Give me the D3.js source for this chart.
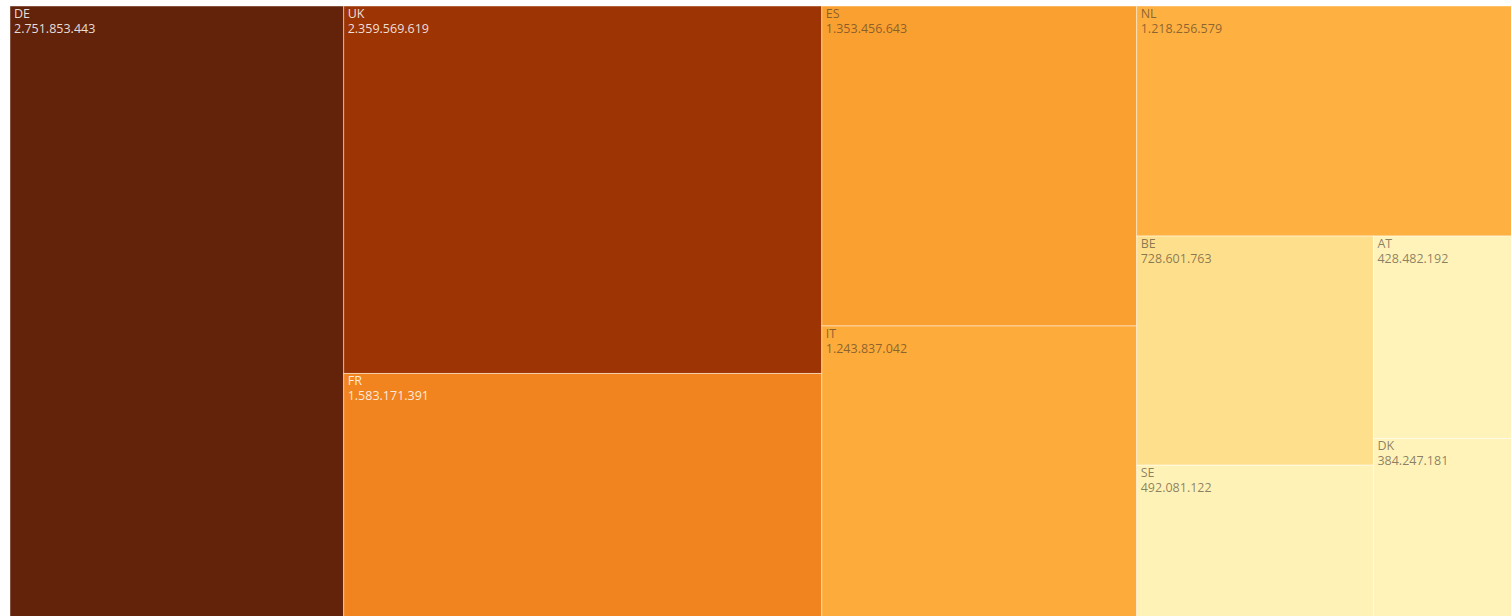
<!DOCTYPE html>
<html>
  <head>
    <meta charset="UTF-8"/>
    <script src="https://d3js.org/d3.v7.min.js"></script>
    <style>
      body{
        margin: 0;
        background-color: #ffffff;
        overflow: hidden;
      }
      .cell rect{
        stroke: rgba(255,255,255,0.45);
        stroke-width: 1;
      }
      .cell text{
        font-family: 'Open Sans', sans-serif;
        font-size: 12.5px;
      }
    </style>
  </head>
  <body>
    <script>
      // values
      const countries = ['DE','UK','FR','ES','IT','NL','BE','SE','AT','DK'];
      const amounts = [2751853443, 2359569619, 1583171391, 1353456643, 1243837042,
                       1218256579, 728601763, 492081122, 428482192, 384247181];
      const cellColors = ['#62230a','#9d3403','#f1841e','#faa030','#fdab3b',
                          '#feb040','#fee08c','#fff2b6','#fff3b9','#fff3b9'];
      const lightText = ['DE','UK','FR'];

      const width = 1511;
      const height = 616;
      const padLeft = 10, padTop = 6;

      const fmt = (v) => d3.format(',')(v).replace(/,/g,'.');

      const color = d3.scaleOrdinal()
                      .domain(countries)
                      .range(cellColors);

      const root = d3.hierarchy({children: countries.map((c,i) => ({name: c, value: amounts[i]}))})
                     .sum(d => d.value || 0)
                     .sort((a,b) => b.value - a.value);

      // squarified layout, the plot runs a little past the window edges
      d3.treemap()
        .tile(d3.treemapSquarify.ratio(1))
        .size([1521, 614])
        .round(false)(root);

      const svg = d3.select('body')
                    .append('svg')
                    .attr('width', width)
                    .attr('height', height);

      const g = svg.append('g')
                   .attr('transform', 'translate(' + padLeft + ',' + padTop + ')');

      const cell = g.selectAll('g')
                    .data(root.leaves())
                    .enter()
                    .append('g')
                    .attr('class','cell')
                    .attr('transform', d => 'translate(' + d.x0 + ',' + d.y0 + ')');

      cell.append('rect')
          .attr('width', d => d.x1 - d.x0)
          .attr('height', d => d.y1 - d.y0)
          .attr('fill', d => color(d.data.name));

      const txtColor = d => lightText.includes(d.data.name) ? 'rgba(255,255,255,0.85)' : 'rgba(60,50,40,0.6)';

      cell.append('text')
          .attr('x', 4)
          .attr('y', 12)
          .attr('fill', txtColor)
          .text(d => d.data.name);

      cell.append('text')
          .attr('x', 4)
          .attr('y', 27)
          .attr('fill', txtColor)
          .text(d => fmt(d.data.value));
    </script>
  </body>
</html>
